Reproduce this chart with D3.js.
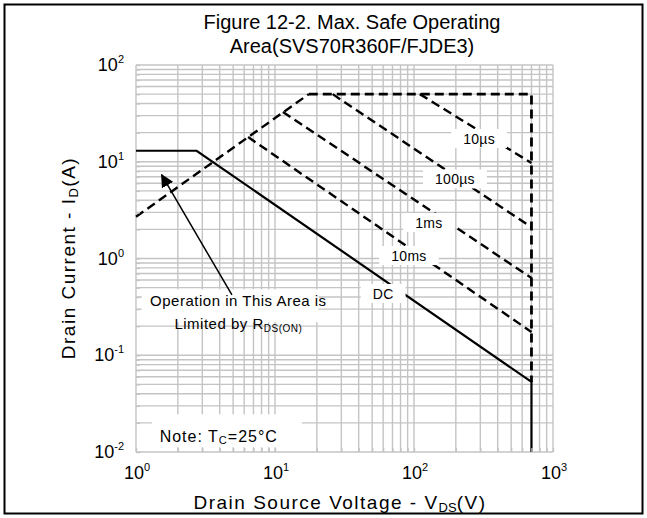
<!DOCTYPE html>
<meta charset="utf-8">
<style>
body { margin: 0; background: #fff; }
svg { font-family: "Liberation Sans", Arial, Helvetica, sans-serif; }
</style>
<svg width="647" height="518"></svg>
<script src="https://d3js.org/d3.v7.min.js"></script>
<script>

// axes
var voltDecades = [1, 10, 100, 1000];
var currDecades = [0.01, 0.1, 1, 10, 100];

// SOA boundaries (V, A)
var rdsV = [1, 17.5],           rdsI = [2.7, 50];
var limitV = [17.5, 700, 700],  limitI = [50, 50, 0.053];
var us10V = [110, 700],         us10I = [50, 9.7];
var us100V = [26, 700],         us100I = [50, 2.1];
var ms1V = [11.4, 700],         ms1I = [32.7, 0.63];
var ms10V = [6.4, 700],         ms10I = [18, 0.174];
var dcV = [1, 2.73, 700, 700],  dcI = [13, 13, 0.053, 0.01];

// curve labels, placed in data units
var labelText = ["10\u00b5s", "100\u00b5s", "1ms", "10ms", "DC"];
var labelV = [294, 197, 128, 92, 60];
var labelI = [17.2, 6.56, 2.33, 1.06, 0.43];

var svg = d3.select("svg"),
    width = +svg.attr("width"),
    height = +svg.attr("height"),
    margin = {top: 65, right: 94, bottom: 66, left: 136};

var x = d3.scaleLog().domain([1, 1000]).range([margin.left, width - margin.right]);
var y = d3.scaleLog().domain([0.01, 100]).range([height - margin.bottom, margin.top]);

var zip = function(vs, is) { return vs.map(function(v, i) { return [v, is[i]]; }); };
var line = d3.line().x(function(d) { return x(d[0]); }).y(function(d) { return y(d[1]); });

// outer frame
svg.append("rect")
    .attr("x", 4.5).attr("y", 4.5)
    .attr("width", width - 9).attr("height", height - 9)
    .attr("fill", "none").attr("stroke", "#000").attr("stroke-width", 2);

// title
svg.append("text")
    .attr("x", 352).attr("y", 29)
    .attr("text-anchor", "middle").attr("font-size", 20)
    .text("Figure 12-2. Max. Safe Operating");
svg.append("text")
    .attr("x", 352).attr("y", 53)
    .attr("text-anchor", "middle").attr("font-size", 20)
    .text("Area(SVS70R360F/FJDE3)");

// grid
var grid = svg.append("g").attr("stroke", "#c4c4c4").attr("stroke-width", 1.4);
grid.selectAll(".gx").data(x.ticks()).enter().append("line")
    .attr("x1", function(d) { return x(d); }).attr("x2", function(d) { return x(d); })
    .attr("y1", y.range()[0]).attr("y2", y.range()[1]);
grid.selectAll(".gy").data(y.ticks()).enter().append("line")
    .attr("y1", function(d) { return y(d); }).attr("y2", function(d) { return y(d); })
    .attr("x1", x.range()[0]).attr("x2", x.range()[1]);

// curves
var curves = svg.append("g").attr("fill", "none").attr("stroke", "#000");
[[rdsV, rdsI], [us10V, us10I], [us100V, us100I], [ms1V, ms1I], [ms10V, ms10I]].forEach(function(s) {
  curves.append("path")
      .attr("d", line(zip(s[0], s[1])))
      .attr("stroke-width", 2.4)
      .attr("stroke-dasharray", "9,5");
});
curves.append("path")
    .attr("d", line(zip(limitV, limitI)))
    .attr("stroke-width", 2.8)
    .attr("stroke-dasharray", "9,5");
curves.append("path")
    .attr("d", line(zip(dcV, dcI)))
    .attr("stroke-width", 2.2);

// curve labels with white boxes
var labels = svg.append("g").attr("font-size", 14).attr("letter-spacing", 0.3);
labelText.forEach(function(t, i) {
  var g = labels.append("g");
  var txt = g.append("text")
      .attr("x", x(labelV[i])).attr("y", y(labelI[i]) + 5)
      .attr("text-anchor", "middle")
      .text(t);
  var b = txt.node().getBBox();
  g.insert("rect", "text")
      .attr("x", b.x - 12).attr("y", b.y - 2)
      .attr("width", b.width + 24).attr("height", b.height + 3)
      .attr("fill", "#fff");
});

// R_DS(on) note
var note = svg.append("g").attr("font-size", 15).attr("letter-spacing", 0.5);
note.append("rect")
    .attr("x", x(1.1)).attr("y", y(0.48))
    .attr("width", x(20.5) - x(1.1)).attr("height", y(0.22) - y(0.48))
    .attr("fill", "#fff");
note.append("text")
    .attr("x", x(5.45)).attr("y", y(0.32))
    .attr("text-anchor", "middle")
    .text("Operation in This Area is");
var l2 = note.append("text")
    .attr("x", x(5.45)).attr("y", y(0.185))
    .attr("text-anchor", "middle");
l2.append("tspan").text("Limited by R");
l2.append("tspan").attr("font-size", 10).attr("dy", 3).text("DS(ON)");

// arrow
svg.append("defs").append("marker")
    .attr("id", "ah").attr("viewBox", "0 0 10 10")
    .attr("refX", 9).attr("refY", 5)
    .attr("markerWidth", 13).attr("markerHeight", 13)
    .attr("markerUnits", "userSpaceOnUse")
    .attr("orient", "auto")
  .append("path").attr("d", "M0,0L10,5L0,10Z").attr("fill", "#000");
svg.append("line")
    .attr("x1", x(4.9)).attr("y1", y(0.42))
    .attr("x2", x(1.53)).attr("y2", y(7.3))
    .attr("stroke", "#000").attr("stroke-width", 1.5)
    .attr("marker-end", "url(#ah)");

// Tc note
var tc = svg.append("g").attr("font-size", 16).attr("letter-spacing", 1);
tc.append("rect")
    .attr("x", x(1.3)).attr("y", y(0.0245))
    .attr("width", x(15.6) - x(1.3)).attr("height", y(0.0112) - y(0.0245))
    .attr("fill", "#fff");
var tct = tc.append("text").attr("x", x(1.48)).attr("y", y(0.0128));
tct.append("tspan").text("Note: T");
tct.append("tspan").attr("font-size", 11).attr("dy", 2).text("C");
tct.append("tspan").attr("dy", -2).text("=25\u00b0C");

// inner tick marks
svg.append("g")
    .attr("transform", "translate(0," + y.range()[0] + ")")
    .call(d3.axisBottom(x).tickSize(-4).tickFormat(""))
    .call(function(g) { g.select(".domain").remove(); g.selectAll("line").attr("stroke", "#c4c4c4").attr("stroke-width", 1.4); });
svg.append("g")
    .attr("transform", "translate(" + x.range()[0] + ",0)")
    .call(d3.axisLeft(y).tickSize(-4).tickFormat(""))
    .call(function(g) { g.select(".domain").remove(); g.selectAll("line").attr("stroke", "#c4c4c4").attr("stroke-width", 1.4); });

// decade labels
function power(sel, d) {
  sel.append("tspan").text("10");
  sel.append("tspan").attr("font-size", 11).attr("dy", -8).text(Math.round(Math.log10(d)));
}
svg.append("g").attr("font-size", 18)
  .selectAll("text").data(voltDecades).enter().append("text")
    .attr("x", function(d) { return x(d) + 1; }).attr("y", 479)
    .attr("text-anchor", "middle")
    .each(function(d) { power(d3.select(this), d); });
svg.append("g").attr("font-size", 18)
  .selectAll("text").data(currDecades).enter().append("text")
    .attr("x", 124).attr("y", function(d) { return y(d) + 6; })
    .attr("text-anchor", "end")
    .each(function(d) { power(d3.select(this), d); });

// axis titles
var xt = svg.append("text")
    .attr("x", 340).attr("y", 509)
    .attr("text-anchor", "middle").attr("font-size", 19).attr("letter-spacing", 1.5);
xt.append("tspan").text("Drain Source Voltage - V");
xt.append("tspan").attr("font-size", 13).attr("dy", 3).attr("letter-spacing", 0).text("DS");
xt.append("tspan").attr("dy", -3).text("(V)");

var yt = svg.append("text")
    .attr("transform", "translate(75,258) rotate(-90)")
    .attr("text-anchor", "middle").attr("font-size", 19).attr("letter-spacing", 1.5);
yt.append("tspan").text("Drain Current - I");
yt.append("tspan").attr("font-size", 13).attr("dy", 3).text("D");
yt.append("tspan").attr("dy", -3).text("(A)");

</script>
